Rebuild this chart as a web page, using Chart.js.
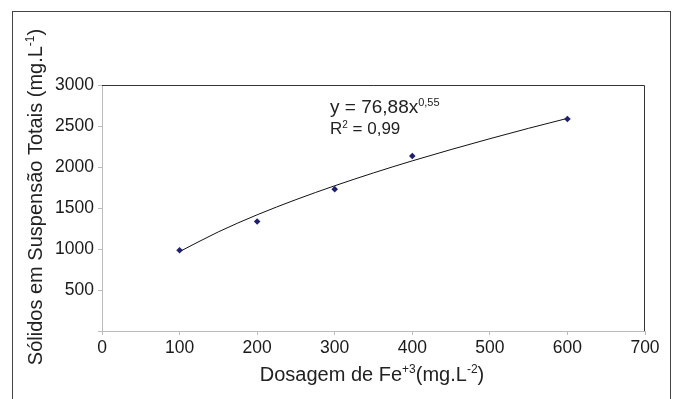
<!DOCTYPE html>
<html>
<head>
<meta charset="utf-8">
<script src="https://cdn.jsdelivr.net/npm/chart.js@4.4.1/dist/chart.umd.min.js"></script>
<style>
  html, body { margin: 0; padding: 0; background: #fff; }
  #wrap { width: 676px; height: 399px; position: relative; }
</style>
</head>
<body>
<div id="wrap"><canvas id="grafico" width="676" height="399"></canvas></div>
<script>
// dados medidos
const dosagem = [100, 200, 300, 400, 600];
const solidos = [985, 1335, 1730, 2135, 2585];

// curva de tendência
const curvaX = [100, 150, 200, 250, 300, 350, 400, 450, 500, 550, 600];
const curvaY = [968, 1209, 1417, 1602, 1771, 1928, 2075, 2213, 2345, 2472, 2593];

const xTicks = [0, 100, 200, 300, 400, 500, 600, 700];
const yTicks = [500, 1000, 1500, 2000, 2500, 3000];

const fonte = '"Liberation Sans", Arial, Helvetica, sans-serif';

// escreve texto com pedaços em sobrescrito
function partes(ctx, pedacos, tam) {
  let w = 0;
  pedacos.forEach(p => {
    ctx.font = (p.sup ? Math.round(tam * 0.6) : tam) + "px " + fonte;
    w += ctx.measureText(p.t).width;
  });
  return w;
}
function escreve(ctx, pedacos, x, y, tam) {
  let cx = x;
  pedacos.forEach(p => {
    const t = p.sup ? Math.round(tam * 0.6) : tam;
    ctx.font = t + "px " + fonte;
    ctx.fillText(p.t, cx, p.sup ? y - tam * 0.38 : y);
    cx += ctx.measureText(p.t).width;
  });
}

const textos = {
  id: "textos",
  afterDraw(chart) {
    const ctx = chart.ctx;
    const a = chart.chartArea;
    ctx.save();

    // moldura externa
    ctx.strokeStyle = "#444";
    ctx.lineWidth = 1;
    ctx.strokeRect(12.5, 11.5, 658, 420);

    // borda superior e direita da área do gráfico
    ctx.strokeStyle = "#333";
    ctx.beginPath();
    ctx.moveTo(a.left, a.top + 0.5);
    ctx.lineTo(a.right - 0.5, a.top + 0.5);
    ctx.lineTo(a.right - 0.5, a.bottom);
    ctx.stroke();

    ctx.fillStyle = "#222";
    ctx.textBaseline = "alphabetic";
    ctx.textAlign = "left";

    // título do eixo x
    const tx = [
      { t: "Dosagem de Fe" }, { t: "+3", sup: true },
      { t: "(mg.L" }, { t: "-2", sup: true }, { t: ")" }
    ];
    const wx = partes(ctx, tx, 20);
    escreve(ctx, tx, 372 - wx / 2, 381, 20);

    // título do eixo y
    const ty = [
      { t: "Sólidos em Suspensão Totais (mg.L" }, { t: "-1", sup: true }, { t: ")" }
    ];
    const wy = partes(ctx, ty, 20);
    ctx.save();
    ctx.translate(42, 197);
    ctx.rotate(-Math.PI / 2);
    escreve(ctx, ty, -wy / 2, 0, 20);
    ctx.restore();

    // equação
    escreve(ctx, [{ t: "y = 76,88x" }, { t: "0,55", sup: true }], 330, 113, 19);
    escreve(ctx, [{ t: "R" }, { t: "2", sup: true }, { t: " = 0,99" }], 330, 134, 17);

    ctx.restore();
  }
};

new Chart(document.getElementById("grafico"), {
  type: "scatter",
  data: {
    datasets: [
      {
        label: "Tendência",
        data: curvaX.map((x, i) => ({ x: x, y: curvaY[i] })),
        showLine: true,
        borderColor: "#111",
        borderWidth: 1,
        pointRadius: 0,
        cubicInterpolationMode: "monotone",
        order: 2
      },
      {
        label: "SST",
        data: dosagem.map((x, i) => ({ x: x, y: solidos[i] })),
        pointStyle: "rectRot",
        pointRadius: 3.3,
        backgroundColor: "#1f2070",
        borderColor: "#1f2070",
        borderWidth: 0,
        order: 1
      }
    ]
  },
  options: {
    responsive: false,
    animation: false,
    layout: { padding: { left: 0, top: 85, right: 31, bottom: 0 } },
    plugins: { legend: { display: false }, tooltip: { enabled: false } },
    scales: {
      x: {
        type: "linear",
        min: 0,
        max: 700,
        afterBuildTicks: s => { s.ticks = xTicks.map(v => ({ value: v })); },
        afterFit: s => { s.height = 68; },
        grid: { drawOnChartArea: false, drawTicks: true, tickLength: 4, color: "#bbb" },
        border: { color: "#bbb" },
        ticks: { color: "#1a1a1a", font: { family: fonte, size: 17.5 }, padding: 3, maxRotation: 0 }
      },
      y: {
        min: 0,
        max: 3000,
        afterBuildTicks: s => { s.ticks = [0].concat(yTicks).map(v => ({ value: v })); },
        afterFit: s => { s.width = 102; },
        grid: { drawOnChartArea: false, drawTicks: true, tickLength: 4, color: "#bbb" },
        border: { color: "#bbb" },
        ticks: {
          color: "#1a1a1a",
          font: { family: fonte, size: 17.5 },
          padding: 4,
          callback: v => (v === 0 ? "" : v)
        }
      }
    }
  },
  plugins: [textos]
});
</script>
</body>
</html>
